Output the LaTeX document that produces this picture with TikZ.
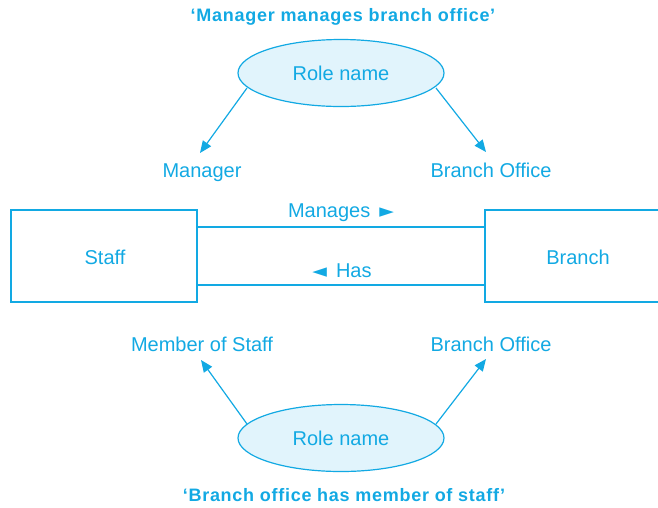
\documentclass[tikz,border=0pt]{standalone}
\usepackage{fontspec}
\setmainfont{Liberation Sans}
\newfontfamily\symfont{DejaVu Sans}
\newfontfamily\ttlfont[LetterSpace=4]{Liberation Sans}
\usetikzlibrary{shapes.geometric,arrows.meta}
\definecolor{cy}{HTML}{12A9E3}
\definecolor{cyfill}{HTML}{E1F4FC}
\tikzset{
  lbl/.style={text=cy,font=\fontsize{20}{22}\selectfont,inner sep=0pt,anchor=base},
  ttl/.style={text=cy,font=\ttlfont\fontsize{18}{20}\selectfont\bfseries,inner sep=0pt},
  role/.style={ellipse,draw=cy,fill=cyfill,line width=1.2pt,minimum width=206pt,minimum height=67pt,inner sep=0pt,text=cy,font=\fontsize{20}{22}\selectfont},
  entity/.style={rectangle,draw=cy,line width=1.2pt,minimum width=186pt,minimum height=92pt,inner sep=0pt,text=cy,font=\fontsize{20}{22}\selectfont},
  arr/.style={draw=cy,line width=1.2pt,-{Triangle[length=12pt,width=10pt]}},
  rel/.style={draw=cy,line width=1.2pt}
}
\newcommand{\rtri}{{\symfont\fontsize{19}{20}\selectfont ►}}
\newcommand{\ltri}{{\symfont\fontsize{19}{20}\selectfont ◄}}
\begin{document}
\begin{tikzpicture}[x=1pt,y=-1pt]
\useasboundingbox (0,0) rectangle (658,507);
\node[ttl] (t1) at (343,17) {‘Manager manages branch office’};
\node[role] (r1) at (341,73) {Role name};
\node[lbl] (mgr) at (202,177) {Manager};
\node[lbl] (bo1) at (491,177) {Branch Office};
\coordinate (a1s) at (247,88);
\coordinate (a2s) at (436,88);
\coordinate (a1e) at (200,153);
\coordinate (a2e) at (486,152);
\draw[arr] (a1s) -- (a1e);
\draw[arr] (a2s) -- (a2e);
\node[entity] (staff) at (104,256) {};
\node[entity] (branch) at (578,256) {};
\node[lbl] (stafft) at (105,264) {Staff};
\node[lbl] (brancht) at (578,264) {Branch};
\draw[rel] (staff.east |- 0,227) -- (branch.west |- 0,227);
\draw[rel] (staff.east |- 0,285) -- (branch.west |- 0,285);
\node[lbl] (man) at (341,217) {Manages\hspace{9pt}\rtri};
\node[lbl] (has) at (342,277) {\ltri\hspace{9pt}Has};
\node[lbl] (mos) at (202,351) {Member of Staff};
\node[lbl] (bo2) at (491,351) {Branch Office};
\node[role] (r2) at (341,438) {Role name};
\coordinate (b1s) at (247,424);
\coordinate (b2s) at (436,424);
\coordinate (b1e) at (201,360);
\coordinate (b2e) at (486,359);
\draw[arr] (b1s) -- (b1e);
\draw[arr] (b2s) -- (b2e);
\node[ttl] (t2) at (344,495) {‘Branch office has member of staff’};
\end{tikzpicture}
\end{document}
